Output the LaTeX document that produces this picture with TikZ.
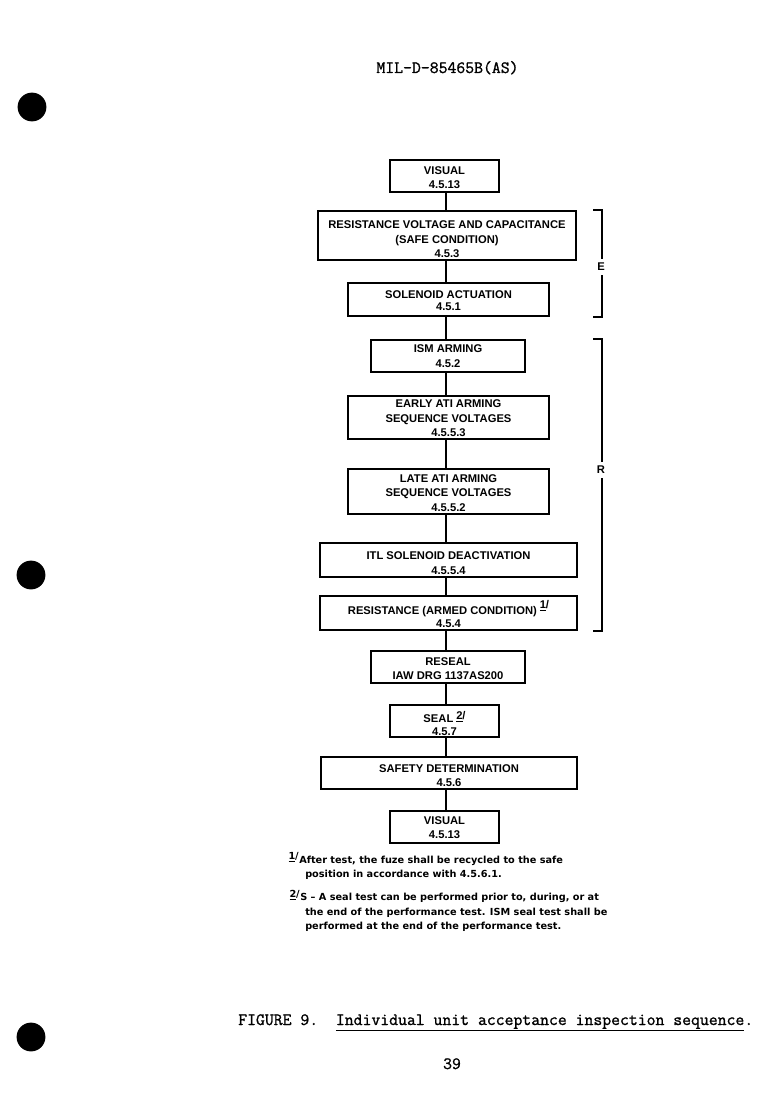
\documentclass[tikz,border=0pt]{standalone}
\usepackage{fontspec}
\newfontfamily\boxfont{Liberation Sans}
\newfontfamily\notefont{DejaVu Sans}
\newfontfamily\typew{Latin Modern Mono}[FakeBold=1.2]
\usetikzlibrary{fit}
\newcommand\fnmark[2]{\raisebox{#2}[0pt][0pt]{\underline{#1}\kern-0.2pt/}}
\begin{document}
\begin{tikzpicture}[x=0.75pt,y=-0.75pt,
  stepbox/.style={draw, line width=1.1pt, inner sep=0pt},
  boxtext/.style={inner sep=0pt, align=center,
    font=\boxfont\bfseries\fontsize{8.4}{10.9}\selectfont},
  tight/.style={font=\boxfont\bfseries\fontsize{8.4}{9.3}\selectfont},
  link/.style={line width=1.6pt},
  brack/.style={line width=1.4pt},
  blabel/.style={font=\boxfont\bfseries\fontsize{8.4}{10}\selectfont, inner sep=3pt},
  note/.style={font=\notefont\bfseries\fontsize{7.3}{9}\selectfont, inner sep=0pt, anchor=base west},
  mono/.style={font=\typew\fontsize{12.93}{14}\selectfont\frenchspacing, inner sep=0pt},
  hole/.style={fill=black}]
\useasboundingbox (0,0) rectangle (771,1099);
\fill[white] (0,0) rectangle (771,1099);

% header
\node[mono, anchor=base] (hdr) at (447.5,73) {MIL-D-85465B(AS)};

% punch holes
\fill[hole] (32,107) circle[radius=10.8pt];
\fill[hole] (31,575) circle[radius=10.8pt];
\fill[hole] (31,1037) circle[radius=10.8pt];

% boxes
\node[stepbox, fit={(390,160) (499,192)}] (b1) {};
\node[stepbox, fit={(318,211) (576,260)}] (b2) {};
\node[stepbox, fit={(348,283) (549,316)}] (b3) {};
\node[stepbox, fit={(371,340) (525,372)}] (b4) {};
\node[stepbox, fit={(348,396) (549,439)}] (b5) {};
\node[stepbox, fit={(348,469) (549,514)}] (b6) {};
\node[stepbox, fit={(320,543) (577,577)}] (b7) {};
\node[stepbox, fit={(320,596) (577,630)}] (b8) {};
\node[stepbox, fit={(371,651) (525,683)}] (b9) {};
\node[stepbox, fit={(390,705) (499,737)}] (b10) {};
\node[stepbox, fit={(321,757) (577,789)}] (b11) {};
\node[stepbox, fit={(390,811) (499,843)}] (b12) {};

% box texts
\node[boxtext, yshift=-1.1pt] (t1) at (b1.center) {VISUAL\\4.5.13};
\node[boxtext, yshift=-3pt] (t2) at (b2.center) {RESISTANCE VOLTAGE AND CAPACITANCE\\(SAFE CONDITION)\\4.5.3};
\node[boxtext, tight, yshift=-0.75pt] (t3) at (b3.center) {SOLENOID ACTUATION\\4.5.1};
\node[boxtext, yshift=0pt] (t4) at (b4.center) {ISM ARMING\\4.5.2};
\node[boxtext, yshift=-0.75pt] (t5) at (b5.center) {EARLY ATI ARMING\\SEQUENCE VOLTAGES\\4.5.5.3};
\node[boxtext, yshift=-1.1pt] (t6) at (b6.center) {LATE ATI ARMING\\SEQUENCE VOLTAGES\\4.5.5.2};
\node[boxtext, yshift=-2.25pt] (t7) at (b7.center) {ITL SOLENOID DEACTIVATION\\4.5.5.4};
\node[boxtext, tight, yshift=-3pt] (t8) at (b8.center) {RESISTANCE (ARMED CONDITION)~\fnmark{1}{5pt}\\4.5.4};
\node[boxtext, yshift=-1.1pt] (t9) at (b9.center) {RESEAL\\IAW DRG 1137AS200};
\node[boxtext, tight, yshift=-3pt] (t10) at (b10.center) {SEAL~\fnmark{2}{2.5pt}\\4.5.7};
\node[boxtext, yshift=-1.9pt] (t11) at (b11.center) {SAFETY DETERMINATION\\4.5.6};
\node[boxtext, yshift=-0.5pt] (t12) at (b12.center) {VISUAL\\4.5.13};

% connectors
\coordinate (spine) at (446,0);
\foreach \a/\b in {b1/b2,b2/b3,b3/b4,b4/b5,b5/b6,b6/b7,b7/b8,b8/b9,b9/b10,b10/b11,b11/b12}
  \draw[link] (\a.south -| spine) -- (\b.north -| spine);

% brackets
\coordinate (brx) at (602,0);
\coordinate (brl) at (593,0);
\node[blabel] (E) at (601,267) {E};
\draw[brack] (b2.north -| brl) -- (b2.north -| brx) -- (E.north -| brx);
\draw[brack] (E.south -| brx) -- (b3.south -| brx) -- (b3.south -| brl);
\node[blabel] (R) at (601,470) {R};
\draw[brack] (b4.north -| brl) -- (b4.north -| brx) -- (R.north -| brx);
\draw[brack] (R.south -| brx) -- (b8.south -| brx) -- (b8.south -| brl);

% footnotes
\node[note] (fn1a) at (299,863) {After test, the fuze shall be recycled to the safe};
\node[note, anchor=base east] (m1) at (fn1a.base west) {\fnmark{1}{3pt}};
\node[note] (fn1b) at (305,877) {position in accordance with 4.5.6.1.};
\node[note] (fn2a) at (300,900) {S – A seal test can be performed prior to, during, or at};
\node[note, anchor=base east] (m2) at (fn2a.base west) {\fnmark{2}{2pt}};
\node[note] (fn2b) at (305,915) {the end of the performance test. ISM seal test shall be};
\node[note] (fn2c) at (305,929.5) {performed at the end of the performance test.};

% caption
\node[mono, anchor=base west] (cap) at (238,1025) {FIGURE 9.\ \ \underline{Individual unit acceptance inspection sequence}.};

% page number
\node[mono, anchor=base] (pg) at (452,1069) {39};
\end{tikzpicture}
\end{document}
